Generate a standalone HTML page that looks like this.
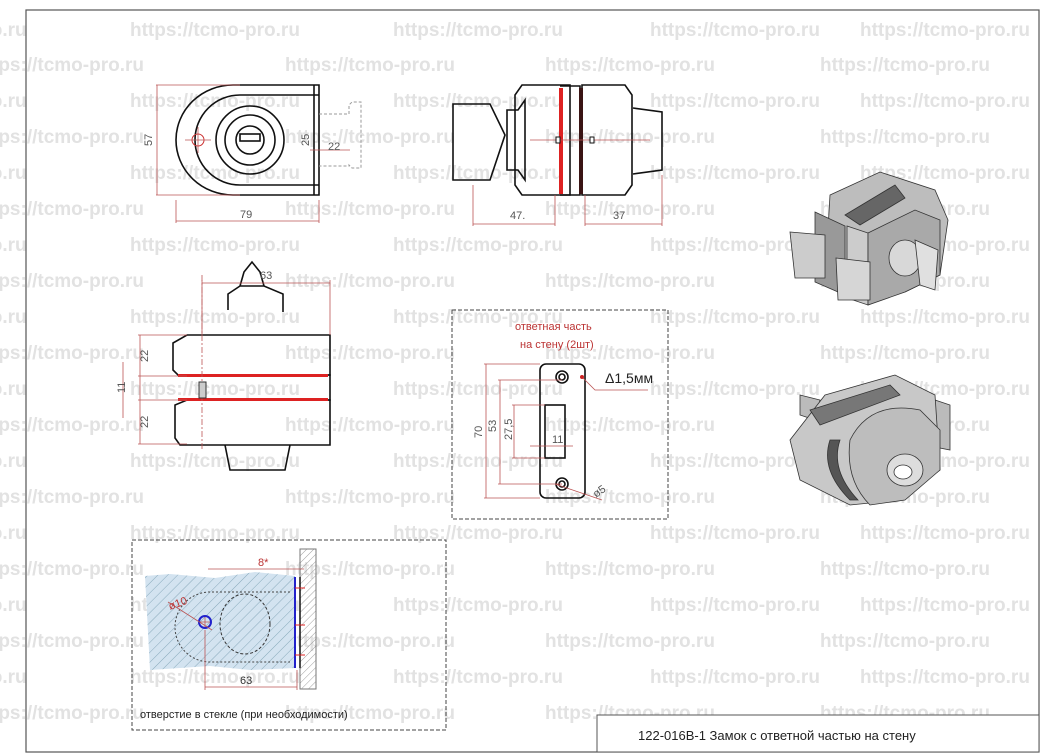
<!DOCTYPE html>
<html><head><meta charset="utf-8"><style>
html,body{margin:0;padding:0;background:#fff;}
svg{display:block;font-family:"Liberation Sans",sans-serif;}
.wm{fill:#e2e2e2;font-weight:bold;font-size:19px;}
.l{stroke:#111;stroke-width:1.6;fill:none;}
.d{stroke:#b55;stroke-width:0.8;fill:none;}
.dt{fill:#555;font-size:11px;}
</style></head><body>
<svg width="1045" height="756" viewBox="0 0 1045 756">
<g class="wm">
<text x="130" y="36">https://tcmo-pro.ru</text><text x="393" y="36">https://tcmo-pro.ru</text><text x="650" y="36">https://tcmo-pro.ru</text><text x="860" y="36">https://tcmo-pro.ru</text><text x="-80" y="36">tcmo-pro.ru</text>
<text x="-8" y="71">tps://tcmo-pro.ru</text><text x="285" y="71">https://tcmo-pro.ru</text><text x="545" y="71">https://tcmo-pro.ru</text><text x="820" y="71">https://tcmo-pro.ru</text>
<text x="-80" y="107">tcmo-pro.ru</text><text x="130" y="107">https://tcmo-pro.ru</text><text x="393" y="107">https://tcmo-pro.ru</text><text x="650" y="107">https://tcmo-pro.ru</text><text x="860" y="107">https://tcmo-pro.ru</text>
<text x="-8" y="143">tps://tcmo-pro.ru</text><text x="285" y="143">https://tcmo-pro.ru</text><text x="545" y="143">https://tcmo-pro.ru</text><text x="820" y="143">https://tcmo-pro.ru</text>
<text x="-80" y="179">tcmo-pro.ru</text><text x="130" y="179">https://tcmo-pro.ru</text><text x="393" y="179">https://tcmo-pro.ru</text><text x="650" y="179">https://tcmo-pro.ru</text><text x="860" y="179">https://tcmo-pro.ru</text>
<text x="-8" y="215">tps://tcmo-pro.ru</text><text x="285" y="215">https://tcmo-pro.ru</text><text x="545" y="215">https://tcmo-pro.ru</text><text x="820" y="215">https://tcmo-pro.ru</text>
<text x="-80" y="251">tcmo-pro.ru</text><text x="130" y="251">https://tcmo-pro.ru</text><text x="393" y="251">https://tcmo-pro.ru</text><text x="650" y="251">https://tcmo-pro.ru</text><text x="860" y="251">https://tcmo-pro.ru</text>
<text x="-8" y="287">tps://tcmo-pro.ru</text><text x="285" y="287">https://tcmo-pro.ru</text><text x="545" y="287">https://tcmo-pro.ru</text><text x="820" y="287">https://tcmo-pro.ru</text>
<text x="-80" y="323">tcmo-pro.ru</text><text x="130" y="323">https://tcmo-pro.ru</text><text x="393" y="323">https://tcmo-pro.ru</text><text x="650" y="323">https://tcmo-pro.ru</text><text x="860" y="323">https://tcmo-pro.ru</text>
<text x="-8" y="359">tps://tcmo-pro.ru</text><text x="285" y="359">https://tcmo-pro.ru</text><text x="545" y="359">https://tcmo-pro.ru</text><text x="820" y="359">https://tcmo-pro.ru</text>
<text x="-80" y="395">tcmo-pro.ru</text><text x="130" y="395">https://tcmo-pro.ru</text><text x="393" y="395">https://tcmo-pro.ru</text><text x="650" y="395">https://tcmo-pro.ru</text><text x="860" y="395">https://tcmo-pro.ru</text>
<text x="-8" y="431">tps://tcmo-pro.ru</text><text x="285" y="431">https://tcmo-pro.ru</text><text x="545" y="431">https://tcmo-pro.ru</text><text x="820" y="431">https://tcmo-pro.ru</text>
<text x="-80" y="467">tcmo-pro.ru</text><text x="130" y="467">https://tcmo-pro.ru</text><text x="393" y="467">https://tcmo-pro.ru</text><text x="650" y="467">https://tcmo-pro.ru</text><text x="860" y="467">https://tcmo-pro.ru</text>
<text x="-8" y="503">tps://tcmo-pro.ru</text><text x="285" y="503">https://tcmo-pro.ru</text><text x="545" y="503">https://tcmo-pro.ru</text><text x="820" y="503">https://tcmo-pro.ru</text>
<text x="-80" y="539">tcmo-pro.ru</text><text x="130" y="539">https://tcmo-pro.ru</text><text x="393" y="539">https://tcmo-pro.ru</text><text x="650" y="539">https://tcmo-pro.ru</text><text x="860" y="539">https://tcmo-pro.ru</text>
<text x="-8" y="575">tps://tcmo-pro.ru</text><text x="285" y="575">https://tcmo-pro.ru</text><text x="545" y="575">https://tcmo-pro.ru</text><text x="820" y="575">https://tcmo-pro.ru</text>
<text x="-80" y="611">tcmo-pro.ru</text><text x="130" y="611">https://tcmo-pro.ru</text><text x="393" y="611">https://tcmo-pro.ru</text><text x="650" y="611">https://tcmo-pro.ru</text><text x="860" y="611">https://tcmo-pro.ru</text>
<text x="-8" y="647">tps://tcmo-pro.ru</text><text x="285" y="647">https://tcmo-pro.ru</text><text x="545" y="647">https://tcmo-pro.ru</text><text x="820" y="647">https://tcmo-pro.ru</text>
<text x="-80" y="683">tcmo-pro.ru</text><text x="130" y="683">https://tcmo-pro.ru</text><text x="393" y="683">https://tcmo-pro.ru</text><text x="650" y="683">https://tcmo-pro.ru</text><text x="860" y="683">https://tcmo-pro.ru</text>
<text x="-8" y="719">tps://tcmo-pro.ru</text><text x="285" y="719">https://tcmo-pro.ru</text><text x="545" y="719">https://tcmo-pro.ru</text><text x="820" y="719">https://tcmo-pro.ru</text>
</g>
<rect x="26" y="10" width="1013" height="742" fill="none" stroke="#555" stroke-width="1.2"/>
<rect x="597" y="715" width="442" height="37" fill="#fff" stroke="#555" stroke-width="1"/>
<text x="638" y="740" font-size="13" fill="#222">122-016B-1   Замок с ответной частью на стену</text>

<!-- front view -->
<path class="l" d="M319,85 L233,85 A57,55 0 0 0 233,195 L319,195 Z"/>
<path class="l" d="M314,85 L314,195"/>
<path class="l" d="M319,95 L240,95 A45,45 0 0 0 240,185 L319,185"/>
<circle class="l" cx="250" cy="140" r="34"/><circle class="l" cx="250" cy="140" r="25"/><circle class="l" cx="250" cy="140" r="14"/>
<rect class="l" x="240" y="134" width="20" height="7"/>
<circle cx="198" cy="140" r="6" fill="none" stroke="#c33"/><path class="d" d="M185,140 H211 M198,127 V153"/>
<path d="M319,114 H349 V105 L352,102 H361 V168 H352 L349,165 V166 H319" fill="none" stroke="#999" stroke-dasharray="3 2"/>
<path class="d" d="M156,85 H240 M156,195 H240 M157,85 V195 M176,200 V223 M319,200 V223 M176,221 H319 M310,150 H350"/>
<text class="dt" x="152" y="146" transform="rotate(-90 152 146)">57</text>
<text class="dt" x="309" y="146" transform="rotate(-90 309 146)">25</text>
<text class="dt" x="328" y="150">22</text>
<text class="dt" x="240" y="218">79</text>

<!-- side view -->
<path class="l" d="M453,104 H490 L505,135 L490,180 H453 Z"/>
<path class="l" d="M507,110 H518 L525,100 V180 L518,170 H507 Z"/>
<path class="l" d="M522,85 H570 V195 H522 L515,185 V95 Z"/>
<rect x="559" y="88" width="4" height="106" fill="#d22"/>
<rect x="579" y="88" width="4" height="106" fill="#d22"/>
<path class="l" d="M560,86 H580 V195 H560"/>
<path class="l" d="M582,85 H625 L632,95 V185 L625,195 H582 Z"/>
<path class="l" d="M633,108 L662,112 V170 L633,174"/>
<path class="d" d="M530,140 H650"/><rect x="556" y="137" width="4" height="6" fill="#fff" stroke="#111"/><rect x="590" y="137" width="4" height="6" fill="#fff" stroke="#111"/>
<path class="d" d="M473,185 V226 M555,195 V226 M585,195 V226 M662,175 V226 M473,224 H555 M585,224 H662"/>
<text class="dt" x="510" y="219">47.</text><text class="dt" x="613" y="219">37</text>

<!-- top view -->
<path class="l" d="M240,286 L244,272 L252,262 L260,272 L264,286 Z M228,310 V294 L240,286 H264 L283,294 V312"/>
<path class="l" d="M187,335 H330 V375 H178 L173,370 V343 Z"/>
<path class="l" d="M187,400 H330 V445 H180 L175,438 V405 Z"/>
<path class="l" d="M178,375 H330 V400 H178"/>
<rect x="178" y="374" width="150" height="3" fill="#d22"/><rect x="178" y="398" width="150" height="3" fill="#d22"/>
<path class="l" d="M225,445 L230,470 H285 L290,445"/>
<path class="d" d="M202,275 V450" stroke-dasharray="6 2 2 2"/>
<rect x="199" y="382" width="7" height="16" fill="#ccc" stroke="#333"/>
<path class="d" d="M202,280 V335 M330,280 V335 M202,283 H330 M138,335 H187 M138,376 H187 M138,400 H187 M138,444 H187 M140,335 V444 M123,362 V418"/>
<text class="dt" x="260" y="279">63</text>
<text class="dt" x="148" y="362" transform="rotate(-90 148 362)">22</text>
<text class="dt" x="148" y="428" transform="rotate(-90 148 428)">22</text>
<text class="dt" x="125" y="393" transform="rotate(-90 125 393)">11</text>

<!-- strike plate box -->
<rect x="452" y="310" width="216" height="209" fill="none" stroke="#444" stroke-dasharray="4 2"/>
<text x="515" y="330" font-size="11" fill="#b33">ответная часть</text>
<text x="520" y="348" font-size="11" fill="#b33">на стену (2шт)</text>
<rect class="l" x="540" y="364" width="45" height="134" rx="6"/>
<circle class="l" cx="562" cy="377" r="6"/><circle class="l" cx="562" cy="377" r="3"/>
<circle class="l" cx="562" cy="484" r="6"/><circle class="l" cx="562" cy="484" r="3"/>
<rect class="l" x="545" y="405" width="20" height="53"/>
<path class="d" d="M484,364 H540 M484,498 H540 M486,364 V498 M498,380 H562 M498,484 H562 M500,380 V484 M512,405 H545 M512,458 H545 M514,405 V458 M530,446 H573 M555,484 L602,500 M582,377 L595,390 H648"/>
<circle cx="582" cy="377" r="2" fill="#c22"/>
<text x="605" y="383" font-size="14" fill="#222">Δ1,5мм</text>
<text class="dt" x="482" y="438" transform="rotate(-90 482 438)">70</text>
<text class="dt" x="496" y="432" transform="rotate(-90 496 432)">53</text>
<text class="dt" x="512" y="440" transform="rotate(-90 512 440)">27,5</text>
<text class="dt" x="552" y="443">11</text>
<text class="dt" x="596" y="498" transform="rotate(-35 596 498)">ø5</text>

<!-- glass hole box -->
<rect x="132" y="540" width="314" height="190" fill="#fff" fill-opacity="0" stroke="#444" stroke-dasharray="4 2"/>
<defs><pattern id="h" width="7" height="7" patternUnits="userSpaceOnUse" patternTransform="rotate(45)"><line x1="0" y1="0" x2="0" y2="7" stroke="#8ab" stroke-width="1"/></pattern>
<pattern id="w" width="5" height="5" patternUnits="userSpaceOnUse" patternTransform="rotate(45)"><line x1="0" y1="0" x2="0" y2="5" stroke="#888" stroke-width="0.8"/></pattern></defs>
<path d="M145,576 L170,574 L215,578 L255,572 L295,576 V668 L250,670 L210,666 L150,670 Z" fill="#d3e3f0"/>
<path d="M145,576 L170,574 L215,578 L255,572 L295,576 V668 L250,670 L210,666 L150,670 Z" fill="url(#h)"/>
<rect x="300" y="549" width="16" height="140" fill="url(#w)" stroke="#777"/>
<path d="M295,577 V668" stroke="#22c" stroke-width="2"/>
<path d="M300,577 V668" stroke="#111" stroke-width="1.5"/>
<path d="M295,588 H305 M295,625 H305 M295,655 H305" stroke="#d22"/>
<path d="M290,592 H210 A35,35 0 0 0 210,662 H290" fill="none" stroke="#444" stroke-dasharray="2 2"/>
<ellipse cx="245" cy="624" rx="25" ry="30" fill="none" stroke="#333" stroke-dasharray="3 2"/>
<circle cx="205" cy="622" r="6" fill="none" stroke="#22c" stroke-width="2"/>
<path class="d" d="M168,602 L212,630 M200,622 H210 M205,617 V627 M205,630 V690 M297,670 V690 M205,687 H297 M208,569 H304"/>
<text x="170" y="610" font-size="11" fill="#b33" transform="rotate(-20 170 610)">ø10</text>
<text x="258" y="566" font-size="11" fill="#b33">8*</text>
<text x="240" y="684" font-size="11" fill="#333">63</text>
<text x="140" y="718" font-size="11" fill="#222">отверстие в стекле (при необходимости)</text>

<!-- 3D 1 -->
<g stroke="#333" stroke-width="0.8">
<path d="M830,195 L880,172 L935,190 L948,220 L940,275 L905,292 L860,300 L825,280 Z" fill="#bdbdbd"/>
<path d="M845,215 L895,185 L905,198 L860,225 Z" fill="#666"/>
<path d="M847,226 L868,233 L868,305 L847,298 Z" fill="#ccc"/>
<path d="M868,233 L915,210 L940,220 L940,275 L905,292 L868,305 Z" fill="#a9a9a9"/>
<path d="M815,212 L845,226 L845,295 L815,282 Z" fill="#999"/>
<path d="M790,232 L825,235 L825,278 L795,278 Z" fill="#ccc"/>
<path d="M836,258 L870,262 L870,300 L838,300 Z" fill="#d6d6d6"/>
<ellipse cx="905" cy="258" rx="16" ry="18" fill="#d8d8d8"/>
<path d="M915,240 L938,250 L935,290 L920,285 Z" fill="#e0e0e0"/>
</g>
<!-- 3D 2 -->
<g stroke="#333" stroke-width="0.8">
<path d="M800,395 L820,400 L815,420 L800,415 Z" fill="#bbb"/>
<path d="M935,400 L950,405 L950,450 L935,447 Z" fill="#bbb"/>
<path d="M825,395 L895,375 L935,395 L940,470 L900,500 L850,505 L800,480 L790,440 Z" fill="#c8c8c8"/>
<path d="M810,410 L890,385 L900,395 L820,425 Z" fill="#777"/>
<path d="M830,440 Q820,470 850,500 L858,500 Q830,470 840,440 Z" fill="#555"/>
<path d="M850,440 Q870,400 920,410 L940,430 L940,470 L905,500 L870,505 Q845,480 850,440 Z" fill="#bdbdbd"/>
<ellipse cx="905" cy="470" rx="18" ry="16" fill="#ddd"/>
<ellipse cx="903" cy="472" rx="9" ry="7" fill="#fff"/>
</g>
</svg>
</body></html>
